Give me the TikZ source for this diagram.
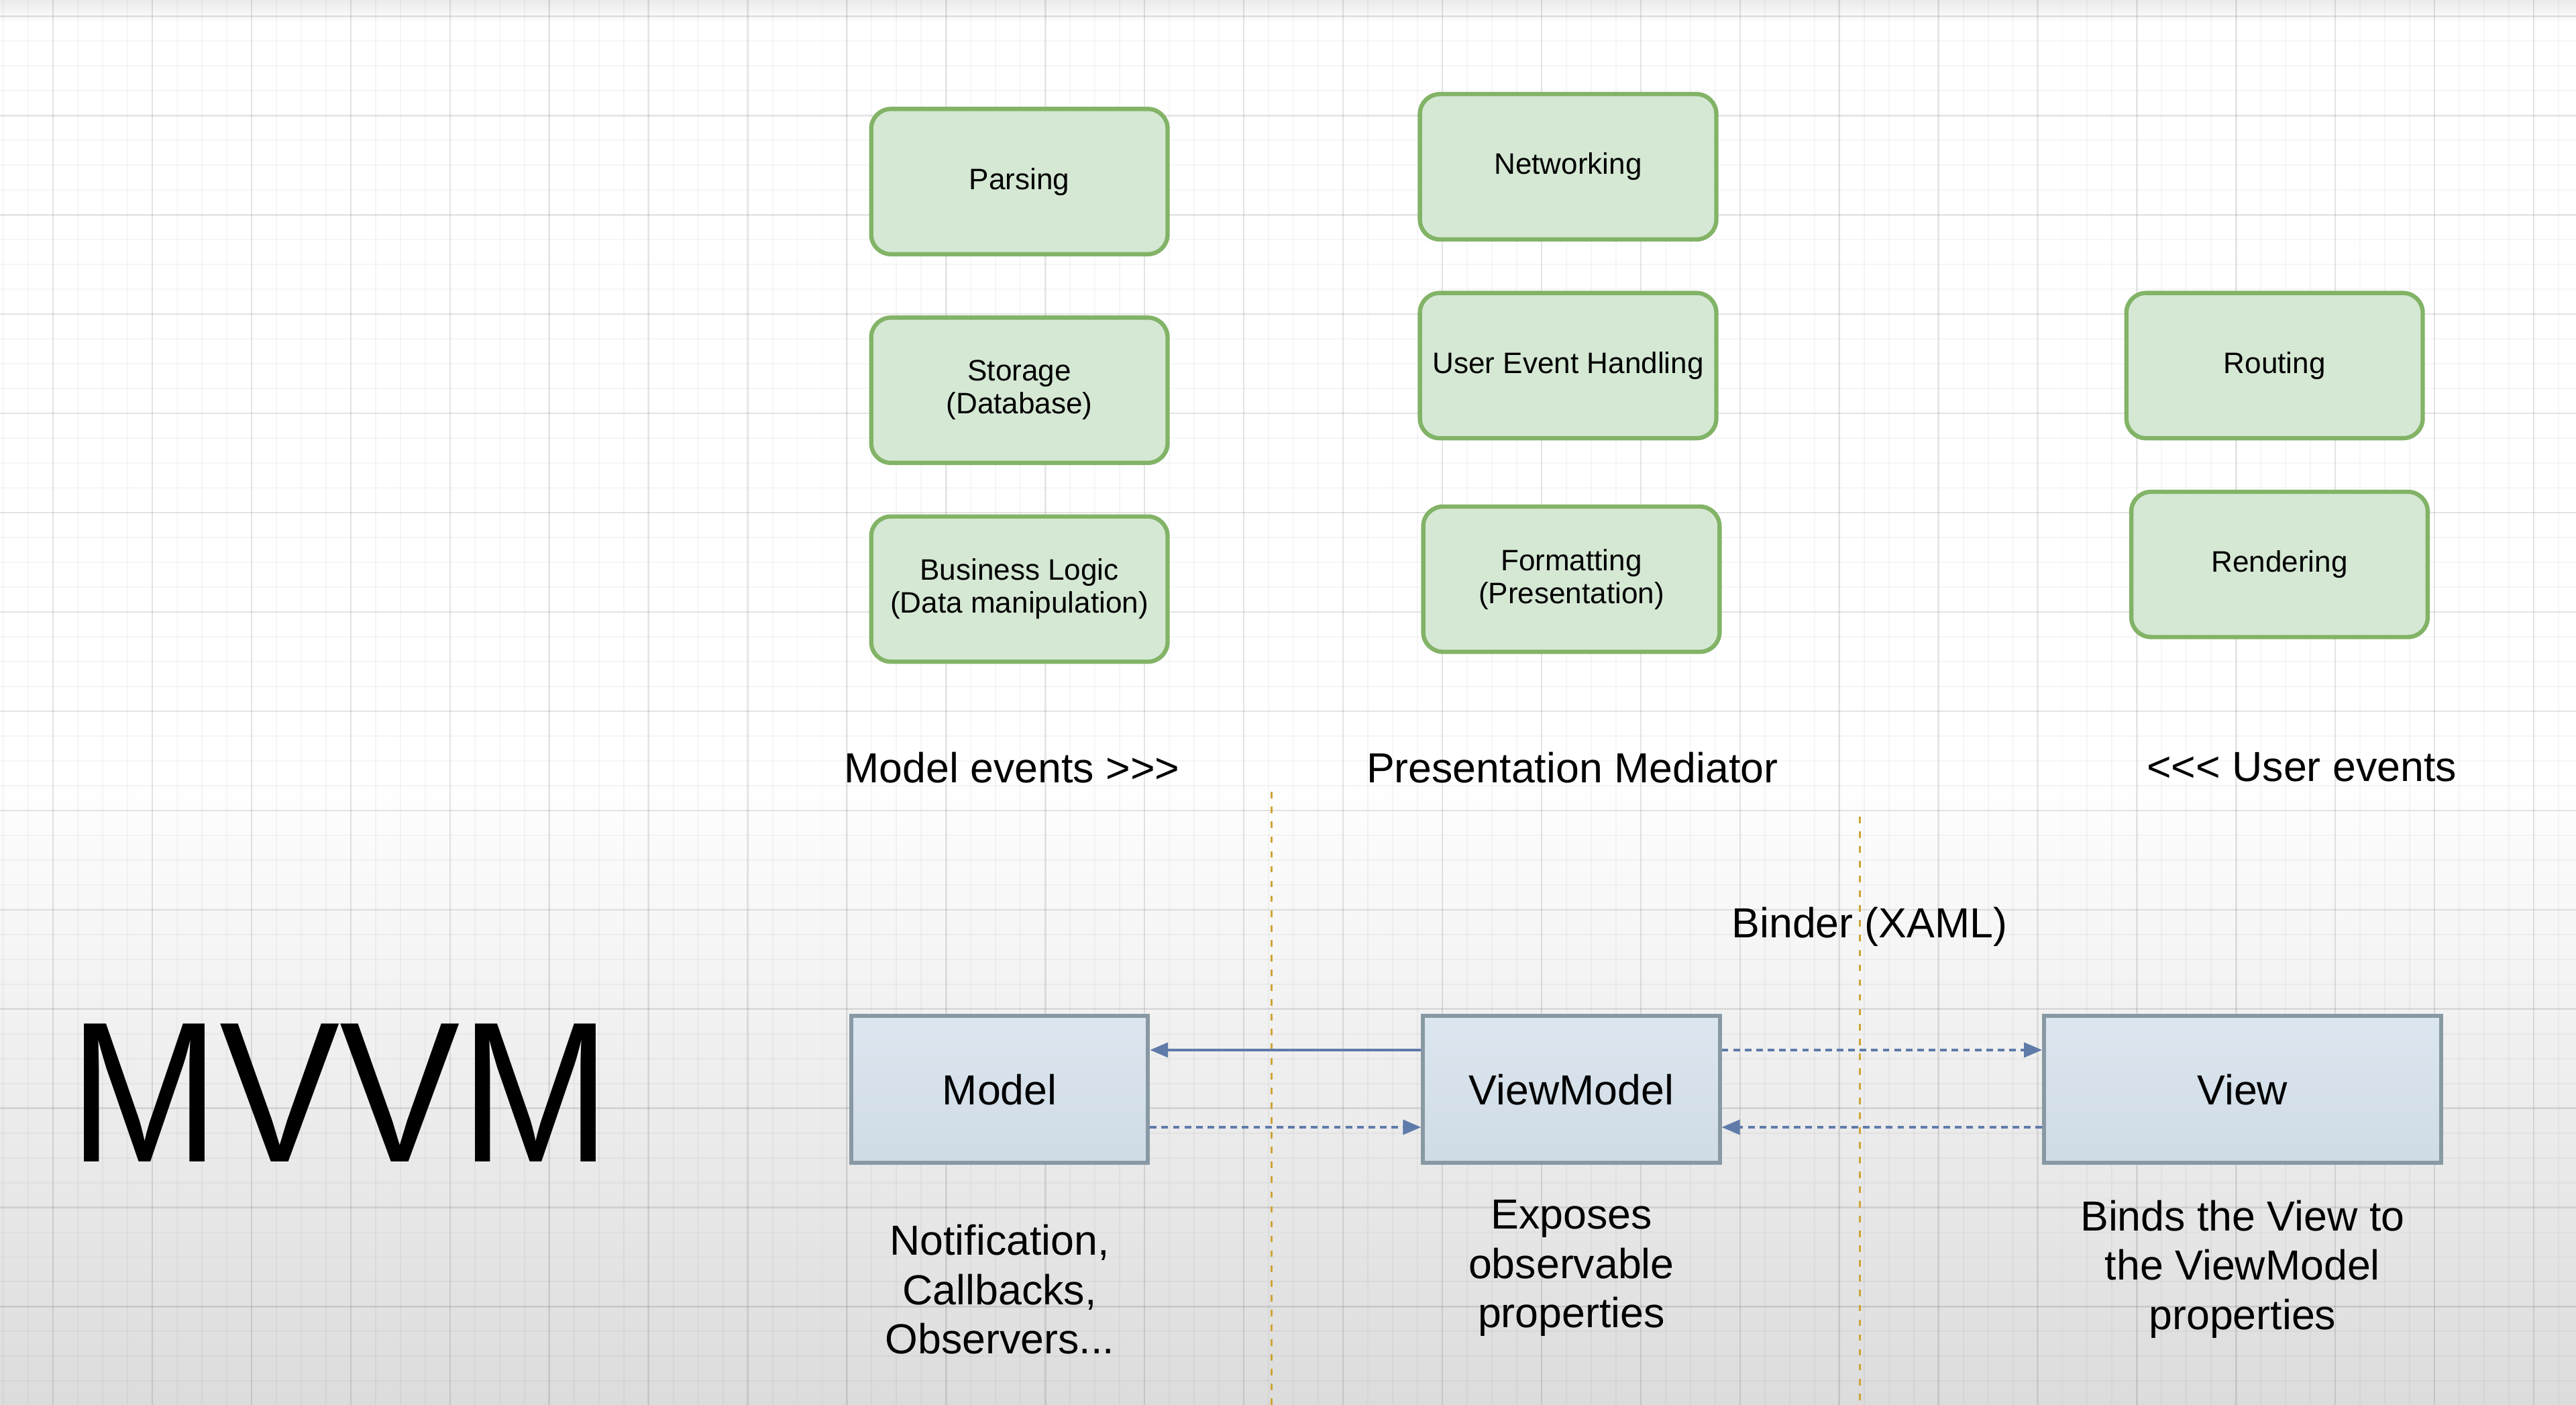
\documentclass[tikz,border=0pt]{standalone}
\usepackage{fontspec}
\setmainfont{Liberation Sans}[Ligatures=TeXOff]
\usetikzlibrary{arrows.meta,positioning,calc}

\definecolor{boxgreen}{HTML}{D5E8D4}
\definecolor{linegreen}{HTML}{82B366}
\definecolor{bluetop}{HTML}{DCE6EF}
\definecolor{bluebot}{HTML}{CFDBE5}
\definecolor{lineblue}{HTML}{8899A4}
\definecolor{arrowblue}{HTML}{5F7BAA}
\definecolor{guidegold}{HTML}{CDA435}
\definecolor{shadegray}{HTML}{DCDCDC}

\begin{document}
\begin{tikzpicture}[
  x=0.5pt, y=-0.5pt,
  task/.style={draw=linegreen, fill=boxgreen, line width=1.3pt, rounded corners=6pt, minimum width=90.2pt, minimum height=44.2pt, align=center, font=\fontsize{9}{10}\selectfont},
  part/.style={draw=lineblue, top color=bluetop, bottom color=bluebot, line width=1.2pt, minimum width=90.3pt, minimum height=44.8pt, font=\fontsize{12.8}{15}\selectfont},
  heading/.style={inner sep=0pt, font=\fontsize{12.8}{15}\selectfont},
  note/.style={align=center, inner sep=0pt, font=\fontsize{12.8}{15}\selectfont},
  link/.style={-{Triangle[length=5.5pt, width=4.5pt]}, draw=arrowblue, line width=0.7pt},
  bind/.style={link, dash pattern=on 2pt off 1.5pt},
  guide/.style={draw=guidegold, line width=0.6pt, dash pattern=on 2pt off 2.5pt},
  minorgrid/.style={draw=black, opacity=0.035, line width=0.4pt},
  majorgrid/.style={draw=black, opacity=0.07, line width=0.5pt}
]
  \useasboundingbox (0,0) rectangle (1568,855);

  % Background and grid
  \fill[white] (0,0) rectangle (1568,855);
  \shade[top color=black!8, bottom color=white] (0,0) rectangle (1568,14);
  \shade[top color=white, bottom color=shadegray] (0,470) rectangle (1568,855);
  \foreach \k in {0,...,103} \draw[minorgrid] ({2.1+15.1*\k},0) -- ++(0,855);
  \foreach \k in {0,...,55} \draw[minorgrid] (0,{10+15.1*\k}) -- ++(1568,0);
  \foreach \k in {0,...,25} \draw[majorgrid] ({32.3+60.4*\k},0) -- ++(0,855);
  \foreach \k in {0,...,13} \draw[majorgrid] (0,{10+60.4*\k}) -- ++(1568,0);

  % Model side tasks
  \node[task] (parsing) at (620.5,110.5) {Parsing};
  \node[task, below=18pt of parsing] (storage) {Storage\\(Database)};
  \node[task, below=15pt of storage] (logic) {Business Logic\\(Data manipulation)};

  % Mediator tasks
  \node[task] (network) at (954.5,101.5) {Networking};
  \node[task, below=15pt of network] (userevt) {User Event Handling};
  \node[task, below=19.5pt of userevt, xshift=1pt] (format) {Formatting\\(Presentation)};

  % View side tasks
  \node[task] (routing) at (1384.5,222.5) {Routing};
  \node[task, below=15pt of routing, xshift=1.5pt] (render) {Rendering};

  % Column headings
  \node[heading] (modelevt) at (616,467) {Model events >>>};
  \node[heading] (mediator) at (957,467) {Presentation Mediator};
  \node[heading] (userevts) at (1401,467) {<<< User events};
  \node[heading] (binder) at (1138,564) {Binder (XAML)};

  % Column separators
  \coordinate (guideA-top) at (774,482);
  \coordinate (guideA-bot) at (774,855);
  \coordinate (guideB-top) at (1132,497);
  \coordinate (guideB-bot) at (1132,855);
  \draw[guide] (guideA-top) -- (guideA-bot);
  \draw[guide] (guideB-top) -- (guideB-bot);

  % MVVM parts
  \node[font=\fontsize{61}{61}\selectfont, xscale=0.9, inner sep=0pt] (title) at (207,665) {MVVM};
  \node[part] (model) at (608.5,663) {Model};
  \node[part] (vm) at (956.5,663) {ViewModel};
  \node[part, minimum width=120.8pt] (view) at (1365,663) {View};

  % Links between parts
  \draw[link] ([yshift=12pt]vm.west) -- ([yshift=12pt]model.east);
  \draw[bind] ([yshift=-11.5pt]model.east) -- ([yshift=-11.5pt]vm.west);
  \draw[bind] ([yshift=12pt]vm.east) -- ([yshift=12pt]view.west);
  \draw[bind] ([yshift=-11.5pt]view.west) -- ([yshift=-11.5pt]vm.east);

  % Notes under the parts
  \node[note, below=18pt of model] (modelnote) {Notification,\\Callbacks,\\Observers...};
  \node[note, below=10.5pt of vm] (vmnote) {Exposes\\observable\\properties};
  \node[note, below=10.5pt of view] (viewnote) {Binds the View to\\the ViewModel\\properties};
\end{tikzpicture}
\end{document}
